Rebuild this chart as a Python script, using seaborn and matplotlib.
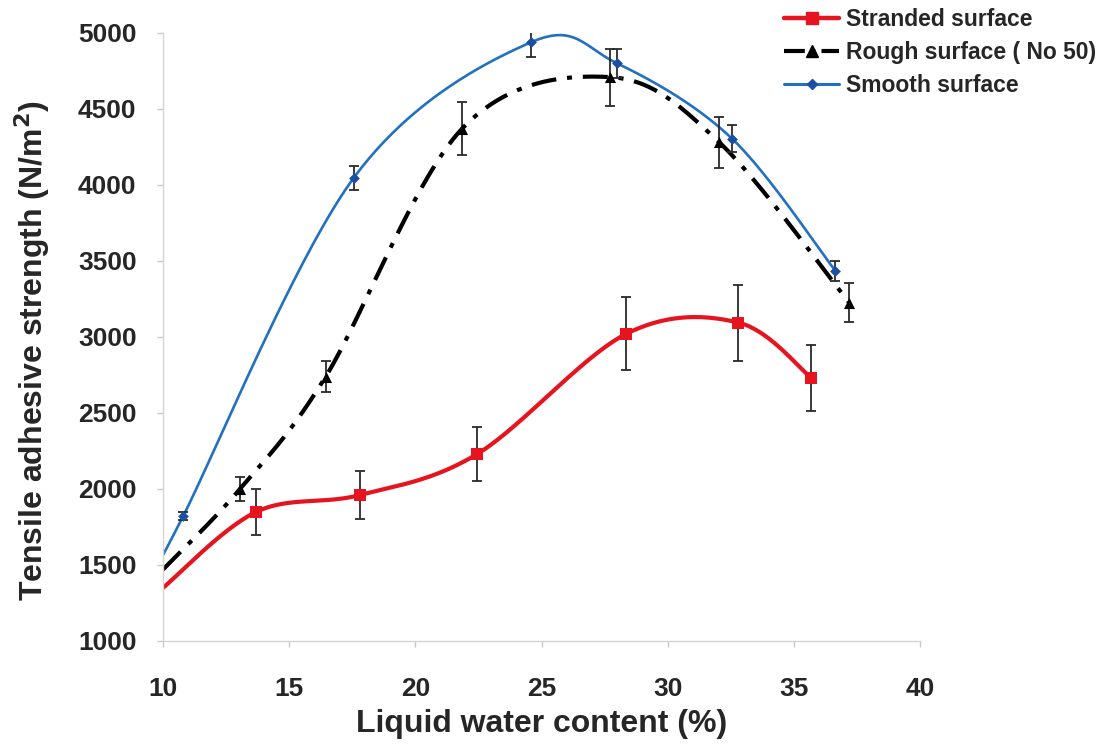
import numpy as np
import pandas as pd
import matplotlib
matplotlib.use("Agg")
import matplotlib.pyplot as plt
import seaborn as sns
from matplotlib.lines import Line2D

# ---- data ----
x_stranded = [13.7, 17.8, 22.45, 28.35, 32.8, 35.7]
y_stranded = [1850, 1960, 2230, 3020, 3095, 2730]
e_stranded = [150, 158, 175, 240, 250, 220]

x_rough = [13.05, 16.45, 21.85, 27.7, 32.05, 37.2]
y_rough = [2000, 2740, 4370, 4710, 4280, 3225]
e_rough = [80, 105, 175, 187, 168, 128]

x_smooth = [10.8, 17.55, 24.6, 28.0, 32.55, 36.65]
y_smooth = [1822, 4045, 4940, 4800, 4305, 3435]
e_smooth = [25, 80, 95, 95, 90, 65]

# smoothed-line values where the curves start at the left axis (x = 10)
trend_x0 = 10
trend_y0 = [1350, 1470, 1580]

labels = ["Stranded surface", "Rough surface ( No 50)", "Smooth surface"]
x_ticks = [10, 15, 20, 25, 30, 35, 40]
y_ticks = [1000, 1500, 2000, 2500, 3000, 3500, 4000, 4500, 5000]


def smooth_curve(x, y, n=60):
    """Spreadsheet-style smoothed line (Catmull-Rom Bezier through points)."""
    P = np.column_stack([x, y]).astype(float)
    m = len(P)
    out = []
    t = np.linspace(0, 1, n)[:, None]
    for i in range(m - 1):
        p0 = P[i]
        p3 = P[i + 1]
        pm = P[i - 1] if i > 0 else P[i]
        pp = P[i + 2] if i + 2 < m else P[i + 1]
        p1 = p0 + (p3 - pm) / 6
        p2 = p3 - (pp - p0) / 6
        seg = ((1 - t) ** 3) * p0 + 3 * ((1 - t) ** 2) * t * p1 + 3 * (1 - t) * t ** 2 * p2 + t ** 3 * p3
        out.append(seg if i == 0 else seg[1:])
    return np.vstack(out)


sns.set_theme(style="white")
plt.rcParams["font.family"] = ["Liberation Sans", "DejaVu Sans"]
plt.rcParams["font.weight"] = "bold"

fig = plt.figure(figsize=(11.07, 7.47), dpi=100)
ax = fig.add_axes([163 / 1107, 1 - 641 / 747, (920 - 163) / 1107, (641 - 33) / 747])

red = "#e5141f"
blue = "#2270c0"
blue_m = "#1a4fa3"
black = "#000000"
dash = (0, (6, 2.6, 1.2, 2.6))

series = [
    (x_stranded, y_stranded, e_stranded, red, red, "s", 8, 3.0, "-"),
    (x_rough, y_rough, e_rough, black, black, "^", 8, 3.0, dash),
    (x_smooth, y_smooth, e_smooth, blue, blue_m, "D", 5.5, 1.9, "-"),
]

for i, (xs, ys, es, lc, mc, mk, ms, lw, ls) in enumerate(series):
    kx = [trend_x0] + list(xs)
    ky = [trend_y0[i]] + list(ys)
    pts = smooth_curve(kx, ky)
    df = pd.DataFrame({"x": pts[:, 0], "y": pts[:, 1]})
    sns.lineplot(data=df, x="x", y="y", ax=ax, color=lc, linewidth=lw,
                 zorder=2, estimator=None, sort=False)
    ax.lines[-1].set_linestyle(ls)
    ax.errorbar(xs, ys, yerr=es, fmt="none", ecolor="#2a2a2a", elinewidth=1.3,
                capsize=3.5, capthick=1.3, zorder=3)
    dp = pd.DataFrame({"x": xs, "y": ys})
    sns.scatterplot(data=dp, x="x", y="y", ax=ax, color=mc, marker=mk,
                    s=ms ** 2, edgecolor=mc, linewidth=0, zorder=4)

ax.set_xlim(10, 40)
ax.set_ylim(1000, 5000)
ax.set_xticks(x_ticks)
ax.set_yticks(y_ticks)
ax.set_xticklabels([str(t) for t in x_ticks], fontsize=19, fontweight="bold")
ax.set_yticklabels([str(t) for t in y_ticks], fontsize=19, fontweight="bold")
for s in ["top", "right"]:
    ax.spines[s].set_visible(False)
for s in ["left", "bottom"]:
    ax.spines[s].set_color("#d4d4d4")
    ax.spines[s].set_linewidth(1.0)
ax.tick_params(axis="both", which="both", direction="out", length=4, width=1,
               color="#c8c8c8", bottom=True, left=True)
ax.tick_params(axis="x", pad=22)
ax.tick_params(axis="y", pad=15)
ax.set_xlabel("Liquid water content (%)", fontsize=23, fontweight="bold", labelpad=6)
ax.set_ylabel("Tensile adhesive strength (N/m$^\\mathbf{2}$)", fontsize=23,
              fontweight="bold")
ax.yaxis.set_label_coords(-0.146, 0.478)
ax.set_facecolor("white")

handles = [
    Line2D([0], [0], color=red, lw=3.2, marker="s", ms=8, mfc=red, mec=red),
    Line2D([0], [0], color=black, lw=3, marker="^", ms=8, linestyle=(0, (5, 1.5, 1, 1.5))),
    Line2D([0], [0], color=blue, lw=2.2, marker="D", ms=5, mfc=blue_m, mec=blue_m),
]
fig.legend(handles, labels, loc="upper left", bbox_to_anchor=(768 / 1107, 1.011),
           frameon=False, prop={"family": "Liberation Sans", "weight": "bold", "size": 16.5},
           handlelength=2.4, handletextpad=0.3, labelspacing=0.45, borderpad=0.2)

fig.savefig("out.png", dpi=100, facecolor="white")
